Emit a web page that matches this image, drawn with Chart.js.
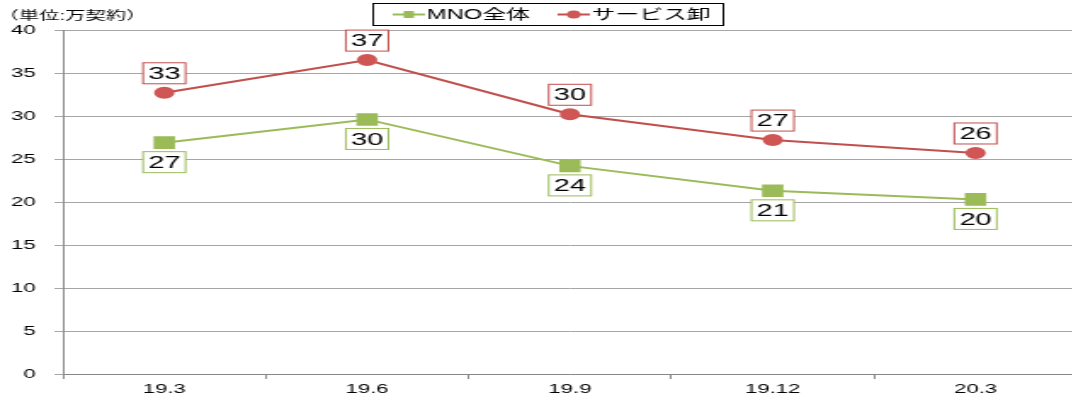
<!DOCTYPE html>
<html>
<head>
<meta charset="utf-8">
<script src="https://cdn.jsdelivr.net/npm/chart.js@4"></script>
<style>
html, body { margin: 0; padding: 0; background: #fff; overflow: hidden; width: 1072px; height: 401px; }
#wrap { width: 643px; height: 401px; transform: scaleX(1.7); transform-origin: 0 0; }
</style>
</head>
<body>
<div id="wrap"><canvas id="trend" width="643" height="401"></canvas></div>
<script>
const periods = ["19.3", "19.6", "19.9", "19.12", "20.3"];
const mnoTotal = [26.9, 29.6, 24.2, 21.3, 20.3];
const wholesale = [32.7, 36.5, 30.2, 27.2, 25.7];
const yTicks = [0, 5, 10, 15, 20, 25, 30, 35, 40];

const FONT = '"Liberation Sans", "Noto Sans CJK JP", sans-serif';
const GREEN = "#9BBB59";
const RED = "#C0504D";

// boxed value above / below each point
const valueTags = {
  id: "valueTags",
  afterDatasetsDraw(chart) {
    const ctx = chart.ctx;
    ctx.save();
    chart.data.datasets.forEach((ds, i) => {
      const meta = chart.getDatasetMeta(i);
      const dy = i === 1 ? -19.5 : 19.5;
      meta.data.forEach((pt, j) => {
        const cx = pt.x, cy = pt.y + dy;
        ctx.fillStyle = "#fff";
        ctx.fillRect(cx - 12.5, cy - 10.5, 25, 21);
        ctx.strokeStyle = ds.borderColor;
        ctx.lineWidth = 1;
        ctx.strokeRect(cx - 12.5, cy - 10.5, 25, 21);
        ctx.fillStyle = "#000";
        ctx.font = "17px " + FONT;
        ctx.textAlign = "center";
        ctx.textBaseline = "middle";
        ctx.fillText(String(Math.round(ds.data[j])), cx, cy + 1);
      });
    });
    ctx.restore();
  }
};

// unit note + framed legend at the top
const header = {
  id: "header",
  afterDraw(chart) {
    const ctx = chart.ctx;
    ctx.save();
    ctx.fillStyle = "#000";
    ctx.font = "12px " + FONT;
    ctx.textAlign = "left";
    ctx.textBaseline = "middle";
    ctx.fillText("（単位:万契約）", -1, 17);

    ctx.fillStyle = "#fff";
    ctx.fillRect(219.5, 3.5, 206, 22);
    ctx.strokeStyle = "#000";
    ctx.lineWidth = 1;
    ctx.strokeRect(219.5, 3.5, 206, 22);

    const starts = [231, 328];
    chart.data.datasets.forEach((ds, i) => {
      const x0 = starts[i], y = 14.5;
      ctx.strokeStyle = ds.borderColor;
      ctx.lineWidth = 2;
      ctx.beginPath();
      ctx.moveTo(x0, y);
      ctx.lineTo(x0 + 19, y);
      ctx.stroke();
      ctx.fillStyle = ds.pointBackgroundColor;
      if (ds.pointStyle === "rect") {
        ctx.fillRect(x0 + 6.5, y - 3.5, 6, 7);
      } else {
        ctx.beginPath();
        ctx.arc(x0 + 9.5, y, 4, 0, Math.PI * 2);
        ctx.fill();
      }
      ctx.fillStyle = "#000";
      ctx.font = "14px " + FONT;
      ctx.textAlign = "left";
      ctx.textBaseline = "middle";
      ctx.fillText(ds.label, x0 + 20, y + 0.5);
    });
    ctx.restore();
  }
};

new Chart(document.getElementById("trend"), {
  type: "line",
  data: {
    labels: periods,
    datasets: [
      {
        label: "MNO全体",
        data: mnoTotal,
        borderColor: GREEN,
        backgroundColor: GREEN,
        pointBackgroundColor: GREEN,
        pointBorderColor: GREEN,
        pointStyle: "rect",
        pointRadius: 7.5,
        borderWidth: 2,
        tension: 0
      },
      {
        label: "サービス卸",
        data: wholesale,
        borderColor: RED,
        backgroundColor: RED,
        pointBackgroundColor: "#D05555",
        pointBorderColor: "#D05555",
        pointStyle: "circle",
        pointRadius: 5,
        borderWidth: 2,
        tension: 0
      }
    ]
  },
  options: {
    responsive: false,
    animation: false,
    layout: { padding: { top: 30, right: 0, left: 0, bottom: 0 } },
    plugins: { legend: { display: false }, tooltip: { enabled: false } },
    scales: {
      x: {
        offset: true,
        grid: { offset: true, drawOnChartArea: false, drawTicks: true, tickLength: 5, color: "#888" },
        border: { color: "#888", width: 1 },
        ticks: { color: "#000", font: { family: FONT, size: 13 }, padding: 3 },
        afterFit: (s) => { s.height = 27; }
      },
      y: {
        min: 0,
        max: 40,
        afterBuildTicks: (s) => { s.ticks = yTicks.map((v) => ({ value: v })); },
        grid: { color: "#a6a6a6", tickLength: 5 },
        border: { color: "#888", width: 1 },
        ticks: { color: "#000", font: { family: FONT, size: 13 }, padding: 11 },
        afterFit: (s) => { s.width = 37; }
      }
    }
  },
  plugins: [valueTags, header]
});
</script>
</body>
</html>
